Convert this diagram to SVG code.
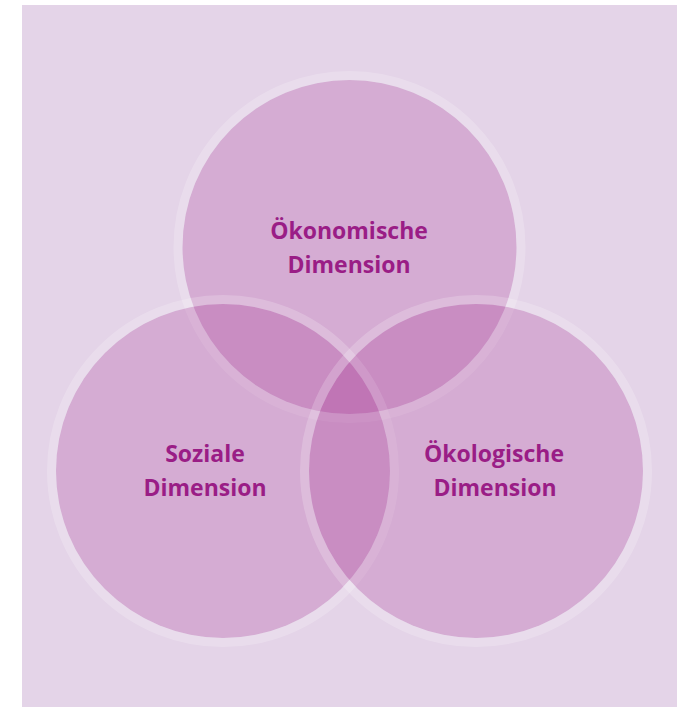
<svg xmlns="http://www.w3.org/2000/svg" width="684" height="707" viewBox="0 0 684 707">
<style>
.fill{fill:#a01e89;fill-opacity:0.22}
.ring{fill:none;stroke:#ffffff;stroke-opacity:0.2;stroke-width:9}
.lbl{font-family:"Open Sans","Liberation Sans",sans-serif;font-weight:700;font-size:23px;fill:#9a1d86;text-anchor:middle}
</style>
<rect x="22" y="5" width="655" height="702" fill="#e4d4e8"/>
<g id="oekonomisch">
<circle class="fill" cx="349.5" cy="247" r="167"/>
<circle class="ring" cx="349.5" cy="247" r="171.5"/>
</g>
<g id="sozial">
<circle class="fill" cx="223" cy="471" r="167"/>
<circle class="ring" cx="223" cy="471" r="171.5"/>
</g>
<g id="oekologisch">
<circle class="fill" cx="476" cy="471" r="167"/>
<circle class="ring" cx="476" cy="471" r="171.5"/>
</g>
<g id="labels">
<text class="lbl" x="349" y="239">Ökonomische</text>
<text class="lbl" x="349" y="273">Dimension</text>
<text class="lbl" x="205" y="462">Soziale</text>
<text class="lbl" x="205" y="496">Dimension</text>
<text class="lbl" x="494" y="462">Ökologische</text>
<text class="lbl" x="495" y="496">Dimension</text>
</g>
</svg>
